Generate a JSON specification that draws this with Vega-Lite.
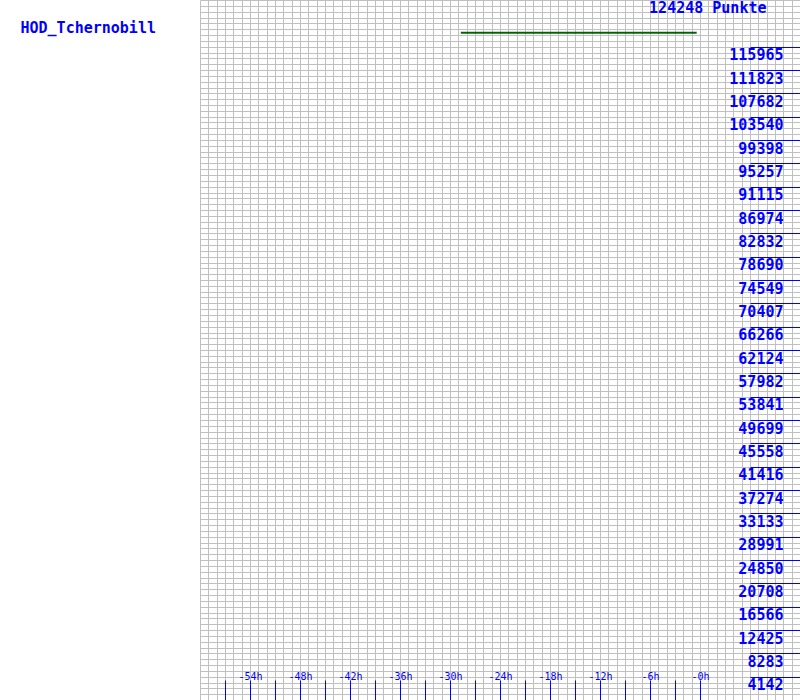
{
  "$schema": "https://vega.github.io/schema/vega-lite/v6.json",
  "width": 600,
  "height": 700,
  "padding": {"left": 200, "top": 0, "right": 0, "bottom": 0},
  "autosize": {"type": "none"},
  "background": "#ffffff",
  "config": {"view": {"stroke": null}},
  "data": {"values": [
    {"hour": -28.7, "punkte": 118440},
    {"hour": -0.4, "punkte": 118440}
  ]},
  "mark": {"type": "line", "color": "#006400", "strokeWidth": 2},
  "encoding": {
    "x": {
      "field": "hour", "type": "quantitative",
      "scale": {"domain": [-60, 12], "nice": false, "zero": false},
      "axis": {
        "orient": "bottom",
        "values": [-60,-59,-58,-57,-56,-55,-54,-53,-52,-51,-50,-49,-48,-47,-46,-45,-44,-43,-42,-41,-40,-39,-38,-37,-36,-35,-34,-33,-32,-31,-30,-29,-28,-27,-26,-25,-24,-23,-22,-21,-20,-19,-18,-17,-16,-15,-14,-13,-12,-11,-10,-9,-8,-7,-6,-5,-4,-3,-2,-1,0,1,2,3,4,5,6,7,8,9,10,11,12],
        "offset": -20,
        "domain": false,
        "grid": true, "gridColor": "#c0c0c0", "gridWidth": 1,
        "ticks": true, "tickSize": 20, "tickWidth": 1, "tickColor": "#0000ff",
        "tickOpacity": {"condition": {"test": "datum.value % 3 == 0 && datum.value >= -57 && datum.value <= 0", "value": 1}, "value": 0},
        "labelExpr": "(datum.value % 6 == 0 && datum.value >= -54 && datum.value <= 0) ? '-' + abs(datum.value) + 'h' : ''",
        "labelFont": "DejaVu Sans Mono", "labelFontSize": 10, "labelColor": "#0000ff",
        "labelBaseline": "middle", "labelPadding": -23.5, "labelAngle": 0,
        "labelOverlap": false, "labelFlush": false,
        "title": "HOD_Tchernobill", "titleX": -180, "titleY": -648, "titleAlign": "left",
        "titleBaseline": "alphabetic", "titleAngle": 0,
        "titleFont": "DejaVu Sans Mono", "titleFontSize": 15, "titleFontWeight": "bold", "titleColor": "#0000ff"
      }
    },
    "y": {
      "field": "punkte", "type": "quantitative",
      "scale": {"domain": [0, 124248], "nice": false, "zero": false},
      "axis": {
        "orient": "right",
        "values": [0,1035.4,2070.8,3106.2,4141.6,5177,6212.4,7247.8,8283.2,9318.6,10354,11389.4,12424.8,13460.2,14495.6,15531,16566.4,17601.8,18637.2,19672.6,20708,21743.4,22778.8,23814.2,24849.6,25885,26920.4,27955.8,28991.2,30026.6,31062,32097.4,33132.8,34168.2,35203.6,36239,37274.4,38309.8,39345.2,40380.6,41416,42451.4,43486.8,44522.2,45557.6,46593,47628.4,48663.8,49699.2,50734.6,51770,52805.4,53840.8,54876.2,55911.6,56947,57982.4,59017.8,60053.2,61088.6,62124,63159.4,64194.8,65230.2,66265.6,67301,68336.4,69371.8,70407.2,71442.6,72478,73513.4,74548.8,75584.2,76619.6,77655,78690.4,79725.8,80761.2,81796.6,82832,83867.4,84902.8,85938.2,86973.6,88009,89044.4,90079.8,91115.2,92150.6,93186,94221.4,95256.8,96292.2,97327.6,98363,99398.4,100433.8,101469.2,102504.6,103540,104575.4,105610.8,106646.2,107681.6,108717,109752.4,110787.8,111823.2,112858.6,113894,114929.4,115964.8,117000.2,118035.6,119071,120106.4,121141.8,122177.2,123212.6,124248],
        "offset": -50,
        "domain": false,
        "grid": true, "gridColor": "#c0c0c0", "gridWidth": 1,
        "ticks": true, "tickSize": 50, "tickWidth": 1, "tickColor": "#0000ff",
        "tickOpacity": {"condition": {"test": "round(datum.value / 1035.4) % 4 == 0 && datum.value > 2000 && datum.value < 117000", "value": 1}, "value": 0},
        "labelExpr": "(round(datum.value / 1035.4) % 4 == 0 && datum.value > 2000 && datum.value < 117000) ? format(datum.value, 'd') : ''",
        "labelFont": "DejaVu Sans Mono", "labelFontSize": 15, "labelFontWeight": "bold", "labelColor": "#0000ff",
        "labelAlign": "right", "labelBaseline": "alphabetic", "labelPadding": -17, "labelOffset": 13,
        "labelOverlap": false, "labelFlush": false,
        "title": "124248 Punkte", "titleX": 16, "titleY": 12, "titleAlign": "right",
        "titleBaseline": "alphabetic", "titleAngle": 0,
        "titleFont": "DejaVu Sans Mono", "titleFontSize": 15, "titleFontWeight": "bold", "titleColor": "#0000ff"
      }
    }
  }
}
